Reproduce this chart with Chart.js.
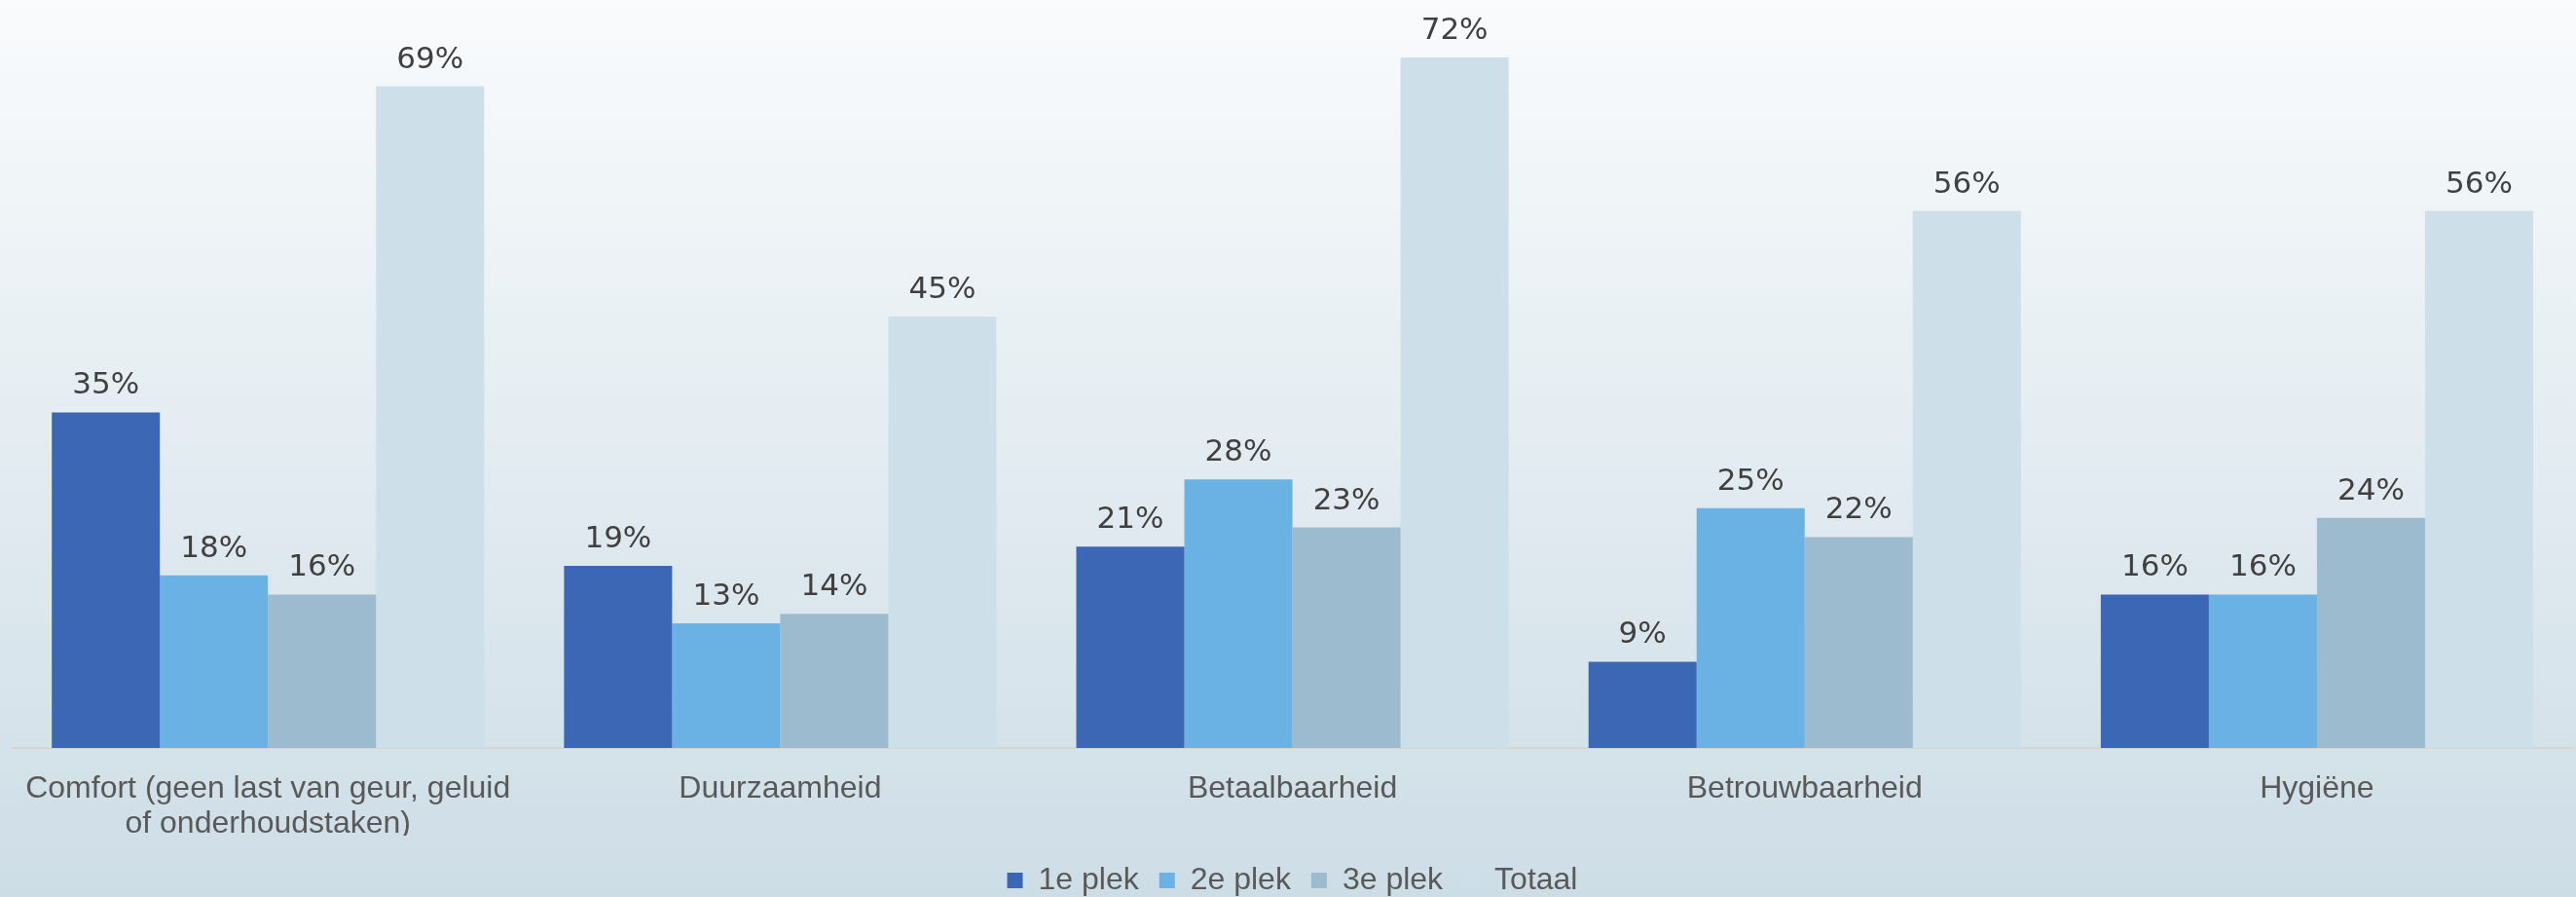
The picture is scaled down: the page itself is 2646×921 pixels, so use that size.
<!DOCTYPE html>
<html>
<head>
<meta charset="utf-8">
<script src="https://cdn.jsdelivr.net/npm/chart.js@4.4.0/dist/chart.umd.min.js"></script>
<style>
  html, body { margin: 0; padding: 0; background: #e3ecf1; }
  #wrap { width: 2646px; height: 921px; position: relative; }
</style>
</head>
<body>
<div id="wrap"><canvas id="c"></canvas></div>
<script>
const categories = [
  ['Comfort (geen last van geur, geluid', 'of onderhoudstaken)'],
  'Duurzaamheid',
  'Betaalbaarheid',
  'Betrouwbaarheid',
  'Hygiëne'
];
const seriesNames = ['1e plek', '2e plek', '3e plek', 'Totaal'];
const plek1 = [35, 19, 21, 9, 16];
const plek2 = [18, 13, 28, 25, 16];
const plek3 = [16, 14, 23, 22, 24];
const totaal = [69, 45, 72, 56, 56];
const colors = ['#3B67B5', '#6AB1E4', '#9DBBCF', '#CDE0E9'];

const bgPlugin = {
  id: 'bg',
  beforeDraw(chart) {
    const { ctx, width, height } = chart;
    const g = ctx.createLinearGradient(0, 0, 0, height);
    g.addColorStop(0, '#f9fbfc');
    g.addColorStop(1, '#cddde6');
    ctx.save();
    ctx.fillStyle = g;
    ctx.fillRect(0, 0, width, height);
    ctx.restore();
  }
};

const labelPlugin = {
  id: 'vlabels',
  afterDatasetsDraw(chart) {
    const { ctx } = chart;
    ctx.save();
    ctx.font = '31px "DejaVu Sans"';
    ctx.fillStyle = '#404040';
    ctx.textAlign = 'center';
    ctx.textBaseline = 'alphabetic';
    chart.data.datasets.forEach((ds, i) => {
      const meta = chart.getDatasetMeta(i);
      meta.data.forEach((el, j) => {
        ctx.fillText(ds.data[j] + '%', el.x, el.y - 19);
      });
    });
    ctx.restore();
  }
};

const legendShift = {
  id: 'legendShift',
  afterLayout(chart) {
    if (chart.legend) {
      chart.legend.top += 9;
      chart.legend.bottom += 9;
    }
  }
};

const seriesData = [plek1, plek2, plek3, totaal];

new Chart(document.getElementById('c'), {
  type: 'bar',
  data: {
    labels: categories,
    datasets: seriesNames.map((n, i) => ({
      label: n,
      data: seriesData[i],
      backgroundColor: colors[i],
      borderWidth: 0,
      categoryPercentage: 0.844,
      barPercentage: 1.0
    }))
  },
  options: {
    responsive: true,
    maintainAspectRatio: false,
    animation: false,
    devicePixelRatio: 1,
    layout: { padding: { left: 12, right: 3, top: 0, bottom: 0 } },
    plugins: {
      legend: {
        position: 'bottom',
        labels: {
          boxWidth: 16,
          boxHeight: 16,
          padding: 21,
          color: '#595959',
          font: { family: '"Liberation Sans", Arial, sans-serif', size: 32 }
        }
      },
      tooltip: { enabled: false }
    },
    scales: {
      x: {
        grid: { display: false, drawTicks: false },
        border: { display: true, color: '#d9d4d4', width: 2 },
        ticks: {
          color: '#595959',
          padding: 25,
          maxRotation: 0,
          autoSkip: false,
          font: { family: '"Liberation Sans", Arial, sans-serif', size: 32, lineHeight: 1.1 }
        },
        afterFit(scale) { scale.height = 90; }
      },
      y: {
        display: false,
        min: 0,
        max: 78
      }
    }
  },
  plugins: [bgPlugin, labelPlugin, legendShift]
});
</script>
</body>
</html>
